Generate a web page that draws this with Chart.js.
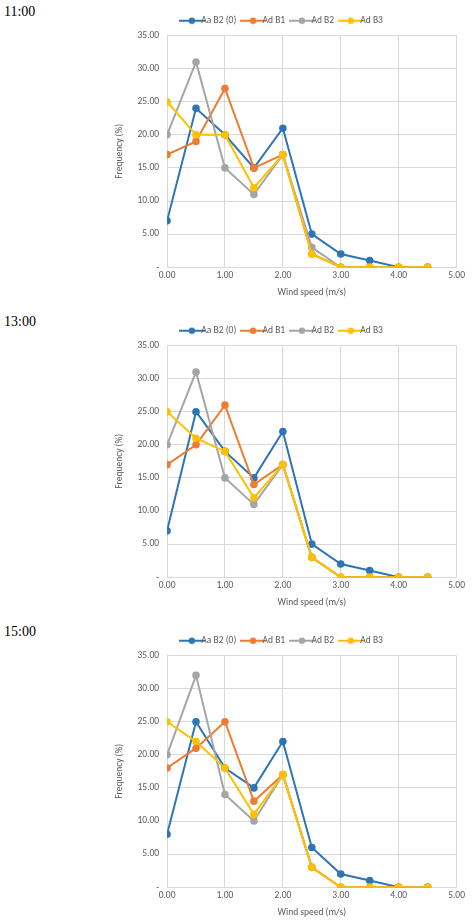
<!DOCTYPE html>
<html><head><meta charset="utf-8">
<script src="https://cdn.jsdelivr.net/npm/chart.js@4"></script>
<style>
body{margin:0;width:474px;height:921px;background:#fff;position:relative;overflow:hidden}
.lbl{position:absolute;left:4px;font-family:"Liberation Serif",serif;font-size:14px;color:#000}
.box{position:absolute;left:110px;width:358px;height:296px}
</style></head><body>
<div class="lbl" style="top:4px">11:00</div>
<div class="box" style="top:4px"><canvas id="c1"></canvas></div>
<div class="lbl" style="top:314px">13:00</div>
<div class="box" style="top:314px"><canvas id="c2"></canvas></div>
<div class="lbl" style="top:624px">15:00</div>
<div class="box" style="top:624px"><canvas id="c3"></canvas></div>
<script>
const speeds = [0, 0.5, 1, 1.5, 2, 2.5, 3, 3.5, 4, 4.5];
const seriesNames = ['Aa B2 (0)', 'Ad B1', 'Ad B2', 'Ad B3'];
const colors = ['#2E75B6', '#ED7D31', '#A5A5A5', '#FFC000'];

const h11 = [
  [7, 24, 20, 15, 21, 5, 2, 1, 0, 0],
  [17, 19, 27, 15, 17, 2, 0, 0, 0, 0],
  [20, 31, 15, 11, 17, 3, 0, 0, 0, 0],
  [25, 20, 20, 12, 17, 2, 0, 0, 0, 0]
];
const h13 = [
  [7, 25, 19, 15, 22, 5, 2, 1, 0, 0],
  [17, 20, 26, 14, 17, 3, 0, 0, 0, 0],
  [20, 31, 15, 11, 17, 3, 0, 0, 0, 0],
  [25, 21, 19, 12, 17, 3, 0, 0, 0, 0]
];
const h15 = [
  [8, 25, 18, 15, 22, 6, 2, 1, 0, 0],
  [18, 21, 25, 13, 17, 3, 0, 0, 0, 0],
  [20, 32, 14, 10, 17, 3, 0, 0, 0, 0],
  [25, 22, 18, 11, 17, 3, 0, 0, 0, 0]
];

Chart.defaults.font.family = 'Calibri, Carlito, "Open Sans", sans-serif';
Chart.defaults.font.size = 9.5;
Chart.defaults.color = '#595959';

// legend marker: short line with a dot, like the spreadsheet legend
function legendIcon(color) {
  const c = document.createElement('canvas');
  c.width = 26; c.height = 8;
  const g = c.getContext('2d');
  g.strokeStyle = color; g.lineWidth = 2;
  g.beginPath(); g.moveTo(0, 4); g.lineTo(26, 4); g.stroke();
  g.fillStyle = color;
  g.beginPath(); g.arc(13, 4, 3.2, 0, Math.PI * 2); g.fill();
  return c;
}
const icons = colors.map(legendIcon);

function makeChart(id, values) {
  const datasets = values.map((vals, i) => ({
    label: seriesNames[i],
    data: vals.map((v, j) => ({ x: speeds[j], y: v })),
    borderColor: colors[i],
    backgroundColor: colors[i],
    borderWidth: 2,
    pointRadius: 2.8,
    pointHoverRadius: 2.8,
    order: 3 - i
  }));
  new Chart(document.getElementById(id), {
    type: 'line',
    data: { datasets },
    options: {
      responsive: true, maintainAspectRatio: false, animation: false,
      layout: { padding: { right: 8 } },
      plugins: {
        tooltip: { enabled: false },
        legend: {
          position: 'top',
          labels: {
            usePointStyle: true, padding: 12,
            generateLabels: chart => chart.data.datasets.map((d, i) => ({
              text: d.label, pointStyle: icons[i], fillStyle: colors[i],
              strokeStyle: colors[i], lineWidth: 0, datasetIndex: i, fontColor: '#595959'
            }))
          }
        }
      },
      scales: {
        x: {
          type: 'linear', min: 0, max: 5,
          ticks: { stepSize: 1, callback: v => v.toFixed(2) },
          grid: { color: '#d9d9d9', drawTicks: false },
          border: { display: false },
          title: { display: true, text: 'Wind speed (m/s)', padding: 2 }
        },
        y: {
          min: 0, max: 35,
          ticks: { stepSize: 5, padding: 8, callback: v => v === 0 ? '-' : v.toFixed(2) },
          grid: { color: '#d9d9d9', drawTicks: false },
          border: { display: false },
          title: { display: true, text: 'Frequency (%)' }
        }
      }
    }
  });
}
makeChart('c1', h11);
makeChart('c2', h13);
makeChart('c3', h15);
</script></body></html>
